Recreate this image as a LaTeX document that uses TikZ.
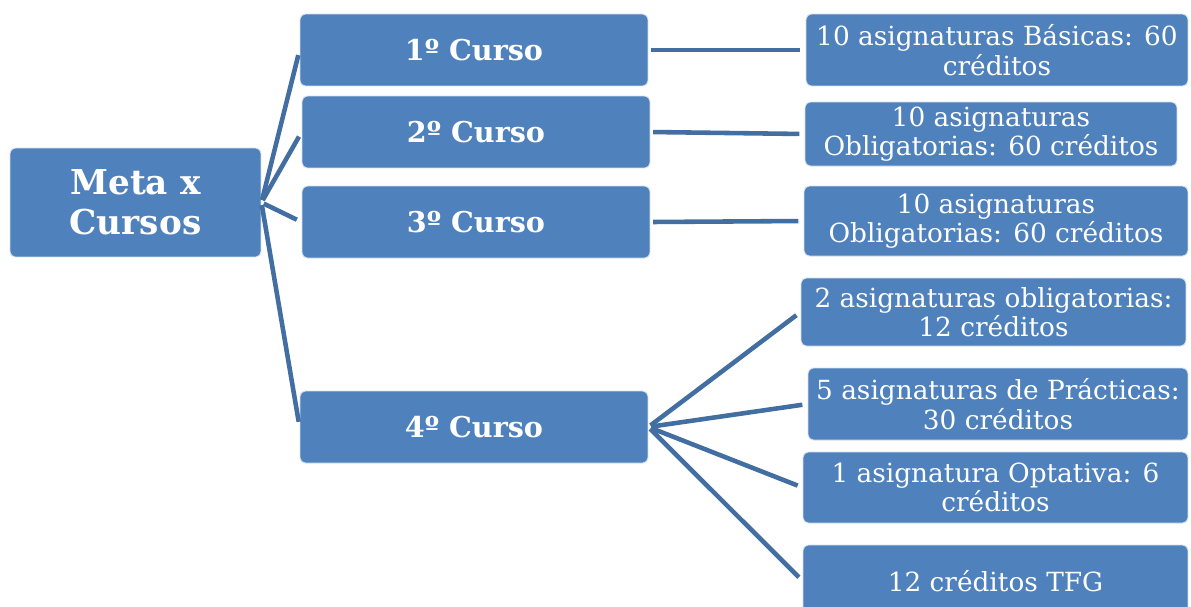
\documentclass[tikz,border=0pt]{standalone}
\usepackage{fontspec}
\setmainfont{DejaVu Serif}
\usepackage{xcolor}
\usetikzlibrary{shapes,arrows.meta,positioning}
\definecolor{boxcolor}{RGB}{79,129,189}
\definecolor{linkcolor}{RGB}{66,110,162}

\begin{document}
\begin{tikzpicture}[
    x=0.02cm, y=-0.02cm,
    box/.style={rectangle, draw=white!75!boxcolor, line width=0.5pt, fill=boxcolor, rounded corners=3pt, text=white, align=center, inner sep=1pt},
    meta/.style={box, minimum width=5.02cm, minimum height=2.18cm, font=\fontsize{19.5}{23}\selectfont\bfseries},
    curso/.style={box, minimum width=6.96cm, minimum height=1.44cm, font=\fontsize{16.3}{19}\selectfont\bfseries},
    item/.style={box, minimum width=7.7cm, font=\fontsize{15}{16.8}\selectfont},
    link/.style={draw=linkcolor, line width=2.6pt, shorten <=1.5pt, shorten >=3pt}
]
\useasboundingbox (0,0) rectangle (1191,606);
\clip (0,0) rectangle (1191,606);

% Root
\node[meta] (meta) at (135.5,202.5) {Meta x\\Cursos};

% Courses
\node[curso] (c1) at (474,50) {1º Curso};
\node[curso] (c2) at (476,132) {2º Curso};
\node[curso] (c3) at (476,222) {3º Curso};
\node[curso] (c4) at (474,427) {4º Curso};

% Subjects
\node[item, minimum width=7.64cm, minimum height=1.44cm] (s1) at (997,50) {10 asignaturas Básicas: 60\\créditos};
\node[item, minimum width=7.44cm, minimum height=1.28cm] (s2) at (991,134) {10 asignaturas\\Obligatorias: 60 créditos};
\node[item, minimum width=7.68cm, minimum height=1.40cm] (s3) at (996,221) {10 asignaturas\\Obligatorias: 60 créditos};
\node[item, minimum width=7.70cm, minimum height=1.36cm] (s4) at (993.5,312) {2 asignaturas obligatorias:\\12 créditos};
\node[item, minimum width=7.60cm, minimum height=1.44cm] (s5) at (998,404) {5 asignaturas de Prácticas:\\30 créditos};
\node[item, minimum width=7.70cm, minimum height=1.42cm] (s6) at (995.5,487.5) {1 asignatura Optativa: 6\\créditos};
\node[item, minimum width=7.70cm, minimum height=1.44cm] (s7) at (995.5,581) {12 créditos TFG};

% Links
\foreach \c in {c1,c2,c3,c4}
    \draw[link] (meta.east) -- (\c.west);
\draw[link] (c1.east) -- (s1.west);
\draw[link] (c2.east) -- (s2.west);
\draw[link] (c3.east) -- (s3.west);
\foreach \s in {s4,s5,s6,s7}
    \draw[link] (c4.east) -- (\s.west);

\end{tikzpicture}
\end{document}
